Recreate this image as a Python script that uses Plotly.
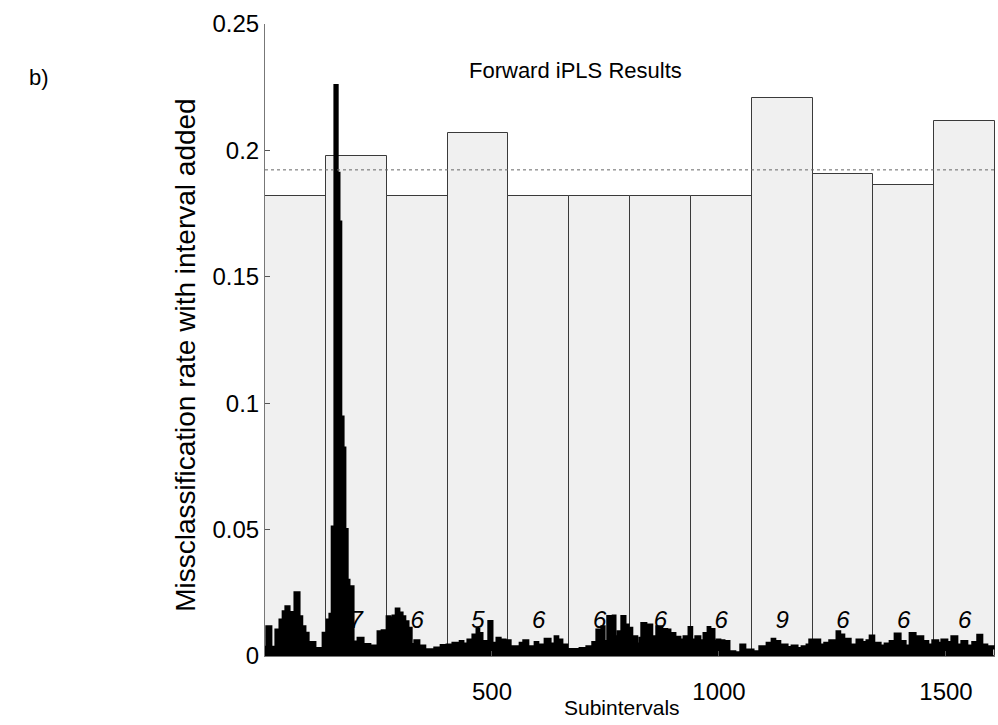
import plotly.graph_objects as go

# ---- data -------------------------------------------------------------
n_vars = 1608
interval_edges = [0, 134, 268, 402, 536, 670, 804, 938, 1072, 1206, 1340, 1474, 1608]
rmse_added = [0.1818, 0.1977, 0.1818, 0.2070, 0.1818, 0.1818, 0.1818, 0.1818,
              0.2208, 0.1908, 0.1863, 0.2115]
n_components = ["", "7", "6", "5", "6", "6", "6", "6", "9", "6", "6", "6"]
global_rate = 0.1923
label_level = 0.0135

spec_x = [0, 4, 13, 24, 33, 40, 46, 53, 59, 66, 75, 81, 88, 95, 110, 128, 137, 143,
          148, 154, 159, 163, 167, 172, 176, 181, 185, 187, 194, 205, 216, 231, 249,
          258, 269, 275, 282, 289, 295, 302, 308, 315, 322, 330, 339, 352, 374, 388,
          401, 414, 430, 436, 447, 458, 467, 471, 478, 493, 500, 511, 518, 529, 540,
          562, 570, 579, 595, 601, 617, 628, 639, 645, 654, 665, 694, 709, 722, 731,
          736, 742, 747, 755, 762, 767, 771, 778, 786, 793, 800, 808, 819, 826, 830,
          839, 843, 852, 863, 874, 885, 892, 903, 914, 923, 934, 940, 949, 958, 967,
          976, 980, 989, 996, 1002, 1011, 1022, 1035, 1048, 1057, 1075, 1090, 1106,
          1117, 1123, 1134, 1150, 1161, 1172, 1183, 1194, 1200, 1216, 1222, 1233, 1244,
          1260, 1266, 1275, 1289, 1304, 1315, 1326, 1333, 1341, 1355, 1366, 1377, 1388,
          1399, 1410, 1421, 1432, 1438, 1449, 1460, 1471, 1482, 1491, 1502, 1513, 1524,
          1535, 1546, 1559, 1570, 1579, 1590, 1604]
spec_y = [0.0035, 0.0116, 0.0035, 0.0103, 0.0142, 0.0175, 0.0195, 0.0170, 0.0172,
          0.0250, 0.0155, 0.0116, 0.0090, 0.0053, 0.0030, 0.0090, 0.0142, 0.0165,
          0.0510, 0.2257, 0.1910, 0.1717, 0.0945, 0.0823, 0.0500, 0.0300, 0.0060,
          0.0274, 0.0055, 0.0070, 0.0045, 0.0040, 0.0096, 0.0100, 0.0155, 0.0150,
          0.0158, 0.0186, 0.0170, 0.0155, 0.0135, 0.0110, 0.0045, 0.0060, 0.0040,
          0.0025, 0.0032, 0.0042, 0.0044, 0.0050, 0.0057, 0.0047, 0.0063, 0.0083,
          0.0105, 0.0089, 0.0057, 0.0136, 0.0050, 0.0070, 0.0063, 0.0060, 0.0037,
          0.0050, 0.0060, 0.0037, 0.0053, 0.0044, 0.0066, 0.0047, 0.0076, 0.0063,
          0.0044, 0.0026, 0.0030, 0.0037, 0.0053, 0.0103, 0.0057, 0.0116, 0.0057,
          0.0156, 0.0096, 0.0158, 0.0076, 0.0096, 0.0156, 0.0123, 0.0110, 0.0076,
          0.0047, 0.0070, 0.0129, 0.0057, 0.0123, 0.0076, 0.0116, 0.0105, 0.0103,
          0.0089, 0.0074, 0.0063, 0.0076, 0.0113, 0.0063, 0.0076, 0.0060, 0.0089,
          0.0113, 0.0105, 0.0057, 0.0063, 0.0060, 0.0057, 0.0017, 0.0013, 0.0044,
          0.0024, 0.0017, 0.0037, 0.0050, 0.0066, 0.0057, 0.0044, 0.0034, 0.0040,
          0.0030, 0.0037, 0.0044, 0.0063, 0.0063, 0.0044, 0.0050, 0.0060, 0.0096,
          0.0083, 0.0066, 0.0044, 0.0063, 0.0053, 0.0060, 0.0079, 0.0050, 0.0040,
          0.0047, 0.0057, 0.0087, 0.0057, 0.0040, 0.0089, 0.0047, 0.0076, 0.0057,
          0.0044, 0.0060, 0.0050, 0.0063, 0.0053, 0.0076, 0.0044, 0.0057, 0.0040,
          0.0053, 0.0082, 0.0044, 0.0037, 0.0026]

x_ticks = [500, 1000, 1500]
y_ticks = [0, 0.05, 0.1, 0.15, 0.2, 0.25]
y_ticklabels = ["0", "0.05", "0.1", "0.15", "0.2", "0.25"]

FONT = "Arial, Liberation Sans, sans-serif"

centers = [(a + b) / 2 for a, b in zip(interval_edges[:-1], interval_edges[1:])]
widths = [b - a for a, b in zip(interval_edges[:-1], interval_edges[1:])]

fig = go.Figure()
fig.add_trace(go.Bar(
    x=centers, y=rmse_added, width=widths,
    marker=dict(color="#f0f0f0", line=dict(color="#3a3a3a", width=1)),
    showlegend=False, hoverinfo="skip"))
fig.add_trace(go.Scatter(
    x=spec_x, y=spec_y, mode="lines", line=dict(color="black", width=3, shape="hv"),
    fill="tozeroy", fillcolor="black", showlegend=False, hoverinfo="skip"))
fig.add_trace(go.Scatter(
    x=centers, y=[label_level] * len(centers), mode="text", text=n_components,
    textfont=dict(family=FONT, size=24, color="black", style="italic"),
    showlegend=False, hoverinfo="skip"))

fig.add_hline(y=global_rate, line=dict(color="#666666", width=1, dash="dot"))

fig.update_layout(
    width=998, height=725,
    margin=dict(l=265, r=3, t=24, b=69),
    paper_bgcolor="white", plot_bgcolor="white",
    bargap=0,
    font=dict(family=FONT, size=22, color="black"),
    xaxis=dict(range=[0, n_vars], tickvals=x_ticks, ticks="inside", ticklen=5,
               tickcolor="#555555", showline=True, linecolor="#777777", linewidth=1,
               showgrid=False, zeroline=False, ticklabelstandoff=14,
               tickfont=dict(size=24)),
    yaxis=dict(range=[0, 0.25], tickvals=y_ticks, ticktext=y_ticklabels,
               ticks="inside", ticklen=5, tickcolor="#555555", showline=True,
               linecolor="#777777", linewidth=1, showgrid=False, zeroline=False,
               tickfont=dict(size=24)),
    annotations=[
        dict(text="Forward iPLS Results", x=0.425, y=0.927, xref="paper", yref="paper",
             showarrow=False, font=dict(size=22), xanchor="center", yanchor="middle"),
        dict(text="Missclassification rate with interval added", x=-0.11, y=0.476,
             xref="paper", yref="paper", showarrow=False, textangle=-90,
             font=dict(size=28), xanchor="center", yanchor="middle"),
        dict(text="Subintervals", x=0.489, y=-0.081, xref="paper", yref="paper",
             showarrow=False, font=dict(size=21), xanchor="center", yanchor="middle"),
        dict(text="b)", x=-0.31, y=0.915, xref="paper", yref="paper",
             showarrow=False, font=dict(size=22), xanchor="center", yanchor="middle"),
    ],
)

fig.write_html("out.html")
